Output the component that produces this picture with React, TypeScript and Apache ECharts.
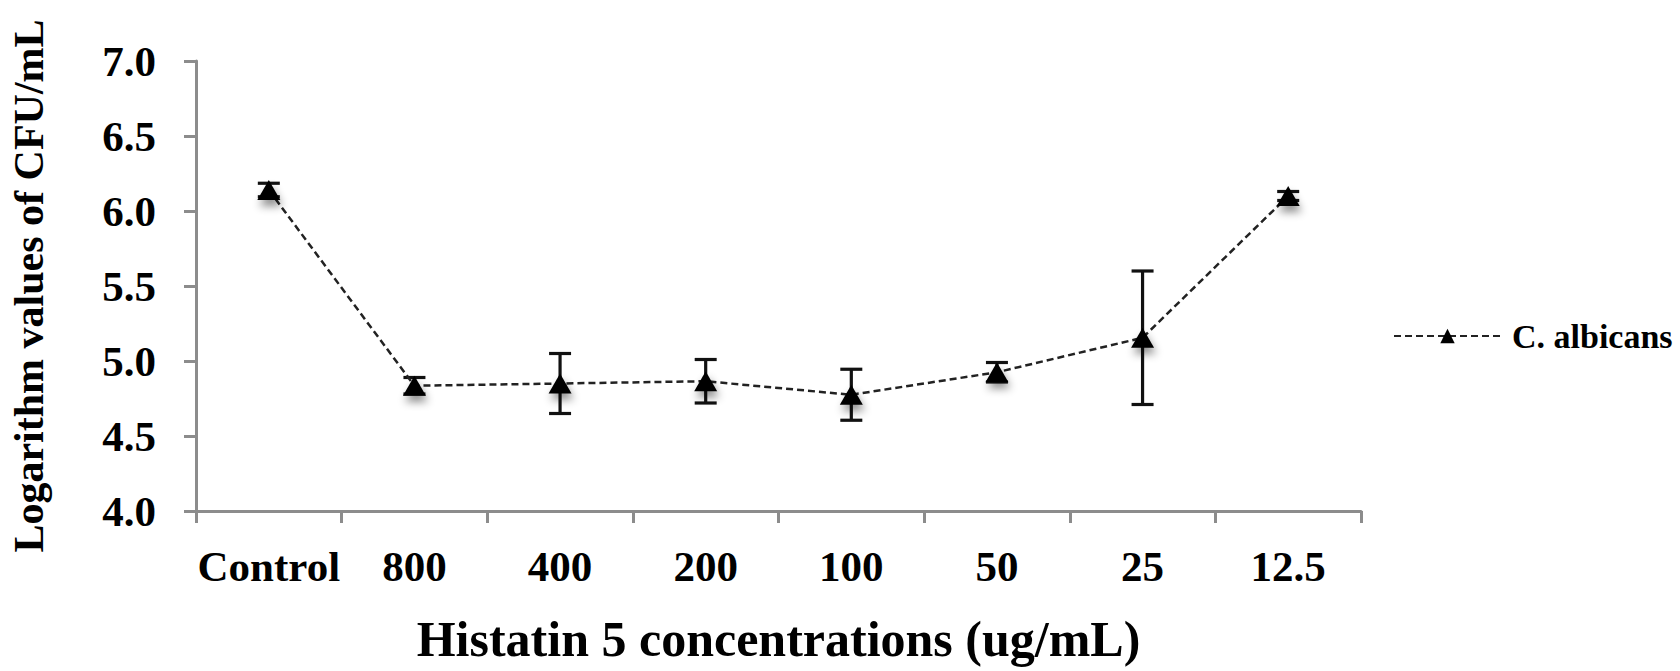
import React, { useEffect, useRef } from "react";
import * as echarts from "echarts";

const categories = ["Control", "800", "400", "200", "100", "50", "25", "12.5"];
const meanValues = [6.14, 4.835, 4.85, 4.865, 4.775, 4.925, 5.155, 6.1];
const errorValues = [0.045, 0.055, 0.2, 0.145, 0.17, 0.065, 0.445, 0.03];
const yTicks = { min: 4, max: 7, interval: 0.5 };
const seriesName = "C. albicans";

const FONT = "'Liberation Serif', 'Times New Roman', serif";
const AXIS_GRAY = "#8c8c8c";

export default function App() {
  const ref = useRef<HTMLDivElement>(null);

  useEffect(() => {
    document.body.style.margin = "0";
    if (!ref.current) return;
    const chart = echarts.init(ref.current, undefined, { renderer: "svg" });

    const errorData = categories.map((_, i) => [i, meanValues[i], errorValues[i]]);

    chart.setOption({
      animation: false,
      backgroundColor: "#ffffff",
      grid: { left: 193, right: 319, top: 61, bottom: 160, containLabel: false },
      legend: {
        show: true,
        data: [seriesName],
        left: 1388,
        top: 314,
        itemWidth: 107,
        itemHeight: 18,
        itemGap: 10,
        textStyle: { fontFamily: FONT, fontWeight: "bold", fontSize: 34, color: "#000", padding: [0, 0, 0, 6] },
      },
      xAxis: {
        type: "category",
        data: categories,
        boundaryGap: true,
        axisLine: { show: true, lineStyle: { color: AXIS_GRAY, width: 3 } },
        axisTick: { show: true, length: 12, alignWithLabel: false, lineStyle: { color: AXIS_GRAY, width: 3 } },
        axisLabel: {
          margin: 34,
          fontFamily: FONT,
          fontWeight: "bold",
          fontSize: 43,
          color: "#000",
          interval: 0,
        },
        splitLine: { show: false },
        name: "Histatin 5 concentrations (ug/mL)",
        nameLocation: "middle",
        nameGap: 103,
        nameTextStyle: { fontFamily: FONT, fontWeight: "bold", fontSize: 50, color: "#000" },
      },
      yAxis: {
        type: "value",
        min: yTicks.min,
        max: yTicks.max,
        interval: yTicks.interval,
        axisLine: { show: true, lineStyle: { color: AXIS_GRAY, width: 3 } },
        axisTick: { show: true, length: 12, lineStyle: { color: AXIS_GRAY, width: 3 } },
        axisLabel: {
          margin: 40,
          fontFamily: FONT,
          fontWeight: "bold",
          fontSize: 43,
          color: "#000",
          formatter: (v: number) => v.toFixed(1),
        },
        splitLine: { show: false },
        name: "Logarithm values of CFU/mL",
        nameLocation: "middle",
        nameRotate: 90,
        nameGap: 146,
        nameTextStyle: { fontFamily: FONT, fontWeight: "bold", fontSize: 42, color: "#000" },
      },
      series: [
        {
          type: "custom",
          name: "error",
          z: 3,
          silent: true,
          data: errorData,
          renderItem: (params: any, api: any) => {
            const x = api.value(0);
            const m = api.value(1);
            const e = api.value(2);
            const top = api.coord([x, m + e]);
            const bot = api.coord([x, m - e]);
            const hw = 11;
            const style = { stroke: "#111", lineWidth: 3.2 };
            return {
              type: "group",
              children: [
                { type: "line", shape: { x1: top[0], y1: top[1], x2: bot[0], y2: bot[1] }, style },
                { type: "line", shape: { x1: top[0] - hw, y1: top[1], x2: top[0] + hw, y2: top[1] }, style },
                { type: "line", shape: { x1: bot[0] - hw, y1: bot[1], x2: bot[0] + hw, y2: bot[1] }, style },
              ],
            };
          },
        },
        {
          type: "line",
          name: seriesName,
          data: meanValues,
          z: 4,
          symbol: "triangle",
          symbolSize: [23, 20],
          showAllSymbol: true,
          lineStyle: { color: "#222", width: 2.5, type: [7, 4] },
          itemStyle: {
            color: "#000",
            shadowColor: "rgba(0,0,0,0.45)",
            shadowBlur: 8,
            shadowOffsetX: 2,
            shadowOffsetY: 6,
          },
        },
      ],
    });

    return () => chart.dispose();
  }, []);

  return <div ref={ref} style={{ width: 1680, height: 671 }} />;
}
